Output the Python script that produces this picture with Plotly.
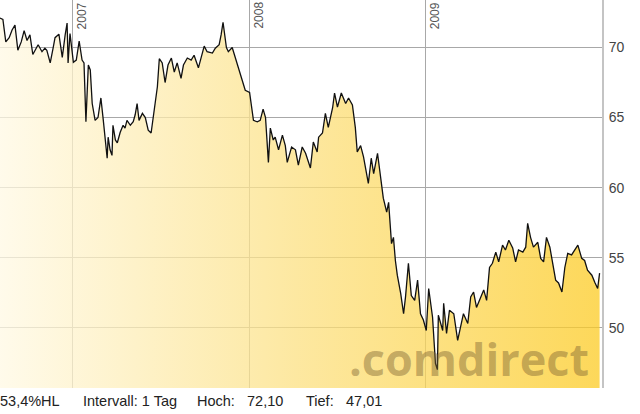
import plotly.graph_objects as go

dates = [
"2006-08-03","2006-08-09","2006-08-15","2006-08-22","2006-08-28","2006-09-03","2006-09-09","2006-09-16","2006-09-22","2006-09-28",
"2006-10-04","2006-10-10","2006-10-17","2006-10-21","2006-10-29","2006-11-04","2006-11-08","2006-11-15","2006-11-21","2006-11-25",
"2006-12-03","2006-12-10","2006-12-16","2006-12-20","2006-12-22","2006-12-26","2007-01-02","2007-01-08","2007-01-14","2007-01-20",
"2007-01-24","2007-01-28","2007-02-02","2007-02-06","2007-02-10","2007-02-16","2007-02-22","2007-02-28","2007-03-05","2007-03-09",
"2007-03-13","2007-03-15","2007-03-19","2007-03-23","2007-03-25","2007-03-30","2007-04-03","2007-04-09","2007-04-15","2007-04-19",
"2007-04-23","2007-04-30","2007-05-06","2007-05-10","2007-05-14","2007-05-18","2007-05-25","2007-05-31","2007-06-06","2007-06-12",
"2007-06-16","2007-06-20","2007-06-25","2007-06-29","2007-07-05","2007-07-11","2007-07-17","2007-07-24","2007-07-30","2007-08-05",
"2007-08-13","2007-08-18","2007-08-26","2007-09-03","2007-09-09","2007-09-18","2007-09-26","2007-09-30","2007-10-06","2007-10-17",
"2007-10-23","2007-10-31","2007-11-04","2007-11-08","2007-11-15","2007-11-19","2007-11-27","2007-12-03","2007-12-10","2007-12-18",
"2007-12-24","2008-01-02","2008-01-06","2008-01-10","2008-01-18","2008-01-24","2008-01-30","2008-02-04","2008-02-10","2008-02-14",
"2008-02-20","2008-02-24","2008-03-02","2008-03-10","2008-03-16","2008-03-20","2008-03-29","2008-04-06","2008-04-12","2008-04-20",
"2008-04-27","2008-05-03","2008-05-07","2008-05-13","2008-05-21","2008-05-24","2008-06-01","2008-06-07","2008-06-13","2008-06-22",
"2008-06-26","2008-07-02","2008-07-10","2008-07-19","2008-07-25","2008-08-02","2008-08-08","2008-08-12","2008-08-19","2008-08-25",
"2008-09-02","2008-09-04","2008-09-10","2008-09-15","2008-09-23","2008-09-27","2008-10-03","2008-10-05","2008-10-12","2008-10-16",
"2008-10-22","2008-10-26","2008-10-30","2008-11-03","2008-11-10","2008-11-16","2008-11-20","2008-11-26","2008-12-02","2008-12-09",
"2008-12-15","2008-12-21","2008-12-27","2009-01-02","2009-01-07","2009-01-15","2009-01-21","2009-01-25","2009-01-27","2009-02-05",
"2009-02-07","2009-02-13","2009-02-19","2009-02-28","2009-03-08","2009-03-14","2009-03-20","2009-03-29","2009-04-04","2009-04-10",
"2009-04-16","2009-04-22","2009-05-01","2009-05-07","2009-05-13","2009-05-19","2009-05-26","2009-06-01","2009-06-09","2009-06-15",
"2009-06-22","2009-06-30","2009-07-06","2009-07-12","2009-07-21","2009-07-27","2009-07-31","2009-08-06","2009-08-12","2009-08-21",
"2009-08-27","2009-09-02","2009-09-08","2009-09-15","2009-09-21","2009-09-27","2009-10-03","2009-10-10","2009-10-16","2009-10-22",
"2009-10-30","2009-11-05","2009-11-12","2009-11-20","2009-11-26","2009-12-02","2009-12-11","2009-12-17","2009-12-23","2009-12-27",
]

prices = [
72.1,72.0,70.4,70.7,71.25,71.6,69.8,70.4,71.2,70.5,
70.9,69.5,69.95,70.2,69.7,69.95,69.8,68.9,69.95,70.7,
70.95,69.3,70.9,71.75,68.9,71.0,68.95,69.1,70.45,69.1,
68.9,64.7,68.75,68.4,66.0,64.8,65.0,66.4,64.8,63.2,
62.1,63.6,62.7,62.3,64.45,63.4,63.2,63.95,64.45,64.25,
64.8,64.45,64.7,65.2,66.0,64.8,65.3,65.0,64.1,63.9,
65.0,66.25,67.2,69.2,68.9,67.5,68.75,69.25,68.25,68.9,
67.8,68.75,69.25,69.1,69.45,68.55,69.7,70.1,69.7,69.6,
69.95,70.2,70.9,71.8,70.0,69.7,70.0,69.3,68.6,67.5,
66.95,66.8,65.75,64.8,64.7,64.8,65.6,65.0,61.8,64.25,
63.4,63.6,62.7,63.75,63.0,61.8,62.9,62.7,61.6,62.9,
62.45,61.75,61.4,63.25,62.55,63.6,63.9,65.3,64.3,65.7,
66.75,65.75,66.75,66.0,66.4,65.9,64.3,62.55,63.0,62.2,
60.75,60.3,62.1,61.0,62.45,61.4,59.8,59.25,58.25,58.95,
56.0,56.45,54.8,53.75,52.45,51.0,52.2,54.6,52.3,51.95,
53.4,51.0,50.55,49.8,52.8,50.75,47.45,47.01,50.9,49.8,
51.75,49.6,51.25,51.0,49.1,49.95,51.0,50.3,52.2,52.55,
51.45,51.95,52.7,51.95,54.3,54.6,55.4,54.7,55.9,55.55,
56.25,55.7,54.7,55.55,55.4,55.75,57.45,56.45,55.75,56.1,
54.95,54.7,56.45,55.75,54.45,53.4,53.2,52.55,54.3,55.3,
55.2,55.55,55.9,54.95,54.8,54.1,53.75,53.25,52.8,53.9,
]

year_ticks = ["2007-01-01", "2008-01-01", "2009-01-01"]
year_labels = ["2007", "2008", "2009"]
y_ticks = [50, 55, 60, 65, 70]

def de(v):
    return f"{v:.2f}".replace(".", ",")

info_texts = ["53,4%HL", "Intervall: 1 Tag", "Hoch:", de(max(prices)), "Tief:", de(min(prices))]
info_px = [0, 83, 197, 247, 305, 345]

PLOT_W = 601

fig = go.Figure()
fig.add_trace(go.Scatter(
    x=dates, y=prices, mode="lines",
    line=dict(color="#111111", width=1.3),
    fill="tozeroy",
    fillgradient=dict(
        type="horizontal",
        colorscale=[[0, "rgba(255,249,228,0.75)"],
                    [0.5, "rgba(252,224,128,0.75)"],
                    [1, "rgba(252,203,35,0.75)"]],
    ),
    hoverinfo="skip",
    showlegend=False,
))

annotations = []
for d, t in zip(year_ticks, year_labels):
    annotations.append(dict(
        x=d, xref="x", y=1, yref="paper", text=t, showarrow=False,
        textangle=-90, xanchor="left", yanchor="top", xshift=0, yshift=0,
        font=dict(family="Liberation Sans, Arial", size=12, color="#555555"),
    ))
for t, px in zip(info_texts, info_px):
    annotations.append(dict(
        x=px / PLOT_W, xref="paper", y=0, yref="paper", text=t, showarrow=False,
        xanchor="left", yanchor="middle", yshift=-13, xshift=-2,
        font=dict(family="Liberation Sans, Arial", size=14.5, color="#222222"),
    ))
annotations.append(dict(
    x=590 / PLOT_W, xref="paper", y=0, yref="paper", text=".comdirect",
    showarrow=False, xanchor="right", yanchor="bottom", yshift=-3,
    font=dict(family="Open Sans", size=45, color="rgba(125,100,50,0.45)", weight=700),
))

fig.update_layout(
    width=640, height=414,
    margin=dict(l=0, r=38, t=0, b=26),
    paper_bgcolor="white", plot_bgcolor="white",
    showlegend=False,
    annotations=annotations,
    xaxis=dict(
        type="date", range=["2006-08-03", "2010-01-01"],
        tickvals=year_ticks, showticklabels=False,
        showgrid=True, gridcolor="#a8a8a8", gridwidth=1,
        zeroline=False, showline=False, ticks="",
    ),
    yaxis=dict(
        side="right", range=[45.7, 73.39], tickvals=y_ticks,
        showgrid=True, gridcolor="#a8a8a8", gridwidth=1,
        zeroline=False, showline=True, linecolor="#c4c4c4", linewidth=2,
        ticks="", ticklabelstandoff=2,
        tickfont=dict(family="Liberation Sans, Arial", size=14, color="#444444"),
    ),
)

fig.write_html(
    "out.html",
    config={"displayModeBar": False},
    post_script="document.body.style.margin='0';document.body.style.overflow='hidden';",
)
